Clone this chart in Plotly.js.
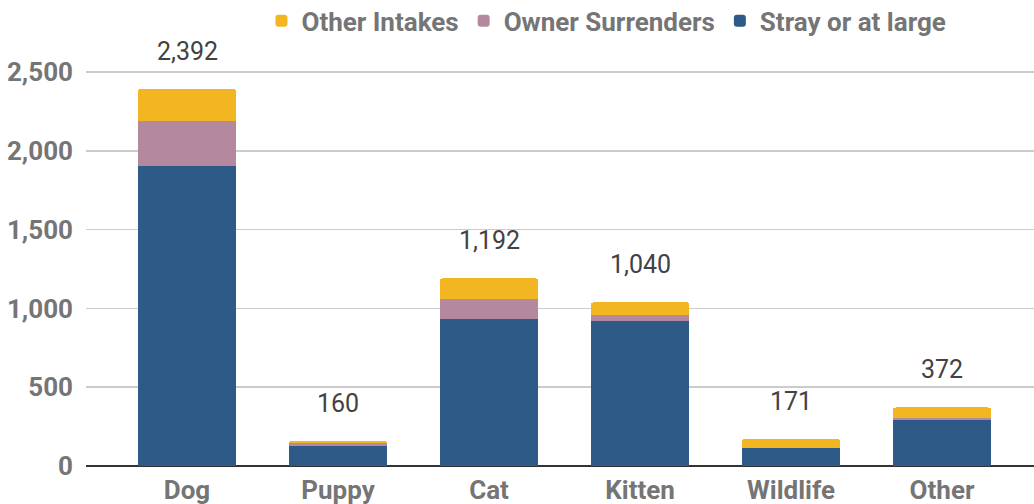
<!DOCTYPE html>
<html>
<head>
<meta charset="utf-8">
<script src="https://cdn.plot.ly/plotly-3.0.1.min.js"></script>
<style>html,body{margin:0;padding:0;background:#fff;}#chart{width:1034px;height:504px;}</style>
</head>
<body>
<div id="chart"></div>
<script>
const categories = ["Dog", "Puppy", "Cat", "Kitten", "Wildlife", "Other"];
const strayOrAtLarge = [1904, 130, 933, 922, 117, 292];
const ownerSurrenders = [287, 14, 127, 36, 0, 12];
const otherIntakes = [201, 16, 132, 82, 54, 68];
const totals = [2392, 160, 1192, 1040, 171, 372];
const yTicks = [0, 500, 1000, 1500, 2000, 2500];

const traces = [
  {type: 'bar', name: 'Stray or at large', x: categories, y: strayOrAtLarge, marker: {color: '#2E5A88'}, hoverinfo: 'x+y+name'},
  {type: 'bar', name: 'Owner Surrenders', x: categories, y: ownerSurrenders, marker: {color: '#B4899F'}, hoverinfo: 'x+y+name'},
  {type: 'bar', name: 'Other Intakes', x: categories, y: otherIntakes, marker: {color: '#F3B623'}, hoverinfo: 'x+y+name'}
];

const annotations = categories.map((c, i) => ({
  x: c, y: totals[i], xref: 'x', yref: 'y',
  text: totals[i].toLocaleString('en-US'),
  showarrow: false, yanchor: 'bottom', yshift: 21,
  font: {family: 'Roboto', size: 25, color: '#424242'}
}));

const boldFont = {family: 'Roboto', size: 26, color: '#757575', weight: 'bold'};

const layout = {
  width: 1034, height: 504,
  margin: {l: 86, r: 0, t: 40, b: 38, autoexpand: false},
  paper_bgcolor: '#fff', plot_bgcolor: '#fff',
  barmode: 'stack', bargap: 0.345, barcornerradius: 4,
  showlegend: true,
  legend: {orientation: 'h', x: 0.549, xref: 'paper', xanchor: 'center',
    y: 1.045, yref: 'paper', yanchor: 'middle',
    traceorder: 'reversed',
    font: {family: 'Roboto', size: 26, color: '#757575', weight: 'bold'}},
  xaxis: {range: [-0.669, 5.609], showgrid: false, ticks: '', showline: false, zeroline: false,
    tickangle: 0, automargin: false,
    tickfont: boldFont, ticklabelstandoff: 6},
  yaxis: {range: [0, 2703], tickvals: yTicks, tickformat: ',d', showgrid: true, gridcolor: '#cccccc', gridwidth: 1.5,
    zeroline: true, zerolinecolor: '#333333', zerolinewidth: 2, ticks: '', showline: false,
    automargin: false, ticklabelstandoff: 12,
    tickfont: boldFont},
  annotations: annotations
};
Plotly.newPlot('chart', traces, layout, {displayModeBar: false, staticPlot: true});
</script>
</body>
</html>
